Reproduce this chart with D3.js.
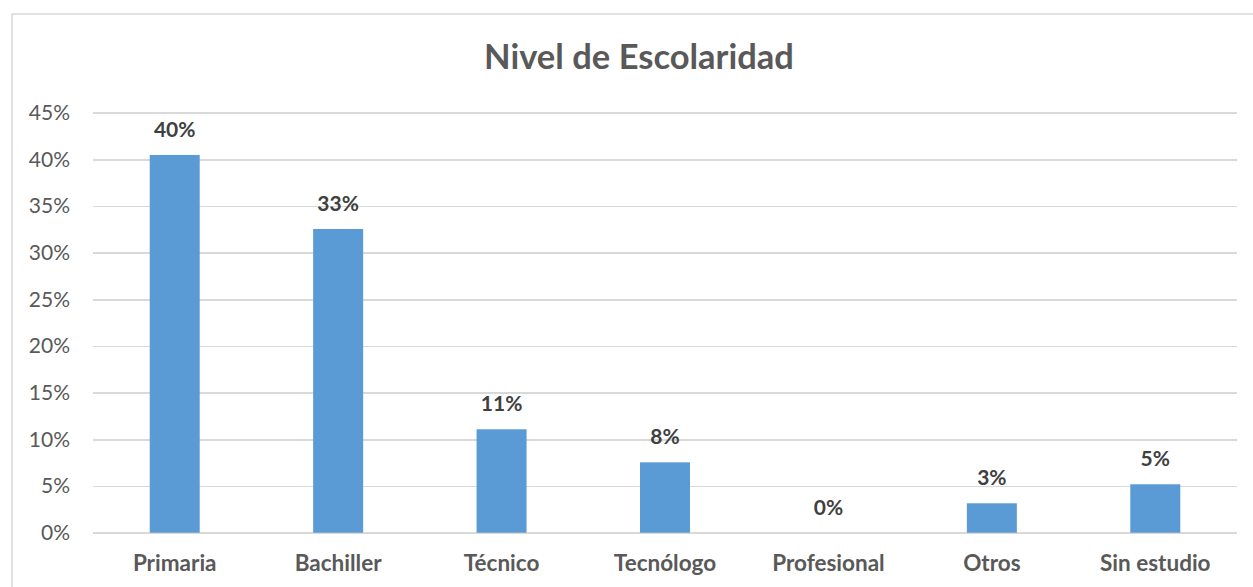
<!DOCTYPE html>
<html>
<head>
<meta charset="utf-8">
<script src="https://cdn.jsdelivr.net/npm/d3@7"></script>
<style>
  body { margin: 0; background: #fff; }
  svg { display: block; font-family: Lato, "Open Sans", sans-serif; }
  .grid line { stroke: #d9d9d9; stroke-width: 1.5; }
  .grid path { display: none; }
  .ylab text { fill: #595959; font-size: 21px; }
  .xlab text { fill: #595959; font-size: 22.5px; font-weight: bold; }
  .barlabel { fill: #404040; font-size: 21px; font-weight: bold; }
  .title { fill: #595959; font-size: 34.5px; font-weight: bold; }
</style>
</head>
<body>
<script>
// chart data
var categories = ["Primaria", "Bachiller", "Técnico", "Tecnólogo", "Profesional", "Otros", "Sin estudio"];
var values = [0.4047, 0.3254, 0.1108, 0.0754, 0, 0.0315, 0.0519];
var yTicks = [0, 0.05, 0.10, 0.15, 0.20, 0.25, 0.30, 0.35, 0.40, 0.45];
var title = "Nivel de Escolaridad";

var W = 1253, H = 587;
var margin = {top: 112.7, right: 16, bottom: 54.3, left: 93},
    width = W - margin.left - margin.right,
    height = H - margin.top - margin.bottom;

var pct = d3.format(".0%");

var svg = d3.select("body").append("svg")
    .attr("width", W)
    .attr("height", H);

// outer chart frame (runs past the right and bottom edges)
svg.append("rect")
    .attr("x", 12)
    .attr("y", 14)
    .attr("width", W + 20)
    .attr("height", H + 20)
    .attr("fill", "none")
    .attr("stroke", "#d9d9d9")
    .attr("stroke-width", 1.5);

svg.append("text")
    .attr("class", "title")
    .attr("x", 639)
    .attr("y", 69)
    .attr("text-anchor", "middle")
    .text(title);

var g = svg.append("g")
    .attr("transform", "translate(" + margin.left + "," + margin.top + ")");

// set the ranges
var x = d3.scaleBand().domain(categories).range([0, width]);
var y = d3.scaleLinear().domain([0, 0.45]).range([height, 0]);
var barW = 50;

// gridlines
g.append("g")
    .attr("class", "grid")
    .call(d3.axisLeft(y).tickValues(yTicks).tickSize(-width).tickFormat(""))
    .attr("shape-rendering", "crispEdges");

// y labels
g.append("g")
    .attr("class", "ylab")
    .selectAll("text")
    .data(yTicks)
  .enter().append("text")
    .attr("x", -23)
    .attr("y", function(d) { return y(d); })
    .attr("dy", "0.35em")
    .attr("text-anchor", "end")
    .text(function(d) { return pct(d); });

// bars
g.selectAll(".bar")
    .data(values)
  .enter().append("rect")
    .attr("class", "bar")
    .attr("x", function(d, i) { return x(categories[i]) + x.bandwidth() / 2 - barW / 2; })
    .attr("y", function(d) { return y(d); })
    .attr("width", barW)
    .attr("height", function(d) { return height - y(d); })
    .attr("fill", "#5b9bd5");

// value labels
g.selectAll(".barlabel")
    .data(values)
  .enter().append("text")
    .attr("class", "barlabel")
    .attr("x", function(d, i) { return x(categories[i]) + x.bandwidth() / 2; })
    .attr("y", function(d) { return y(d) - 18; })
    .attr("text-anchor", "middle")
    .text(function(d) { return pct(d); });

// category labels
g.append("g")
    .attr("class", "xlab")
    .selectAll("text")
    .data(categories)
  .enter().append("text")
    .attr("x", function(d) { return x(d) + x.bandwidth() / 2; })
    .attr("y", height + 38)
    .attr("text-anchor", "middle")
    .text(function(d) { return d; });
</script>
</body>
</html>
